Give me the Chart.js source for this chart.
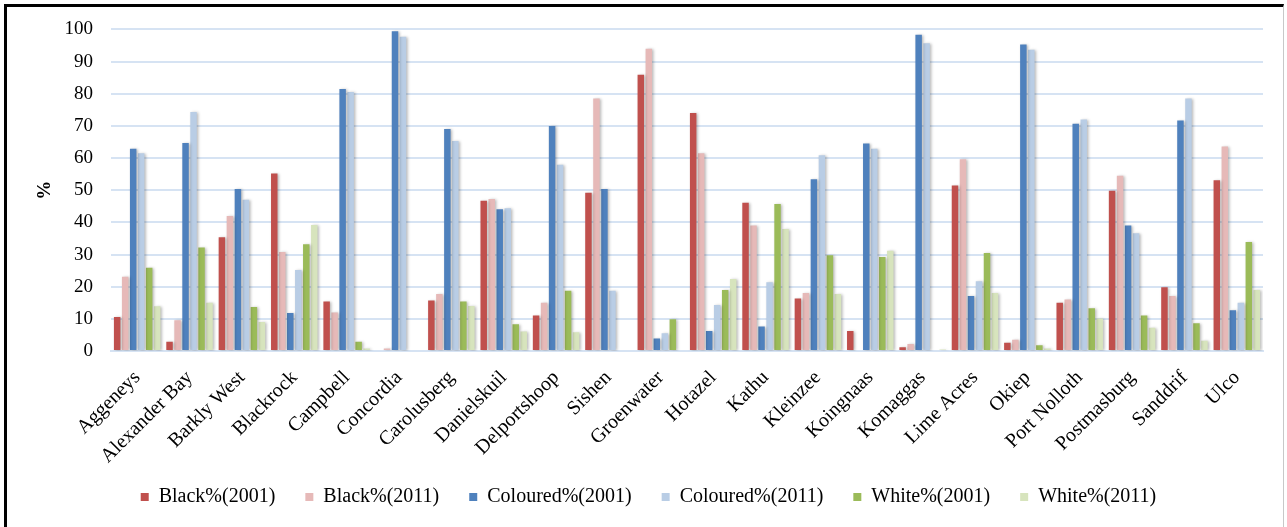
<!DOCTYPE html>
<html>
<head>
<meta charset="utf-8">
<script src="https://cdn.jsdelivr.net/npm/chart.js@4/dist/chart.umd.min.js"></script>
<style>
  html, body { margin: 0; padding: 0; background: #fff; }
  #wrap { position: relative; width: 1287px; height: 527px; overflow: hidden; }
  #c { position: absolute; left: 0; top: 0; }
  #frame {
    position: absolute; left: 4px; top: 4px; width: 1280px; height: 540px;
    border-top: 3px solid #000; border-left: 3px solid #000; border-right: 1px solid #c8c8c8;
    pointer-events: none; box-sizing: border-box;
  }
</style>
</head>
<body>
<div id="wrap">
  <canvas id="c" width="1287" height="527"></canvas>
  <div id="frame"></div>
</div>
<script>
// Population group shares per town, census 2001 vs 2011
const towns = ['Aggeneys', 'Alexander Bay', 'Barkly West', 'Blackrock', 'Campbell', 'Concordia',
  'Carolusberg', 'Danielskuil', 'Delportshoop', 'Sishen', 'Groenwater', 'Hotazel', 'Kathu',
  'Kleinzee', 'Koingnaas', 'Komaggas', 'Lime Acres', 'Okiep', 'Port Nolloth', 'Postmasburg',
  'Sanddrif', 'Ulco'];

const black2001 = [10.6, 2.9, 35.4, 55.2, 15.4, 0, 15.7, 46.7, 11.0, 49.2, 85.9, 74.0, 46.1, 16.3, 6.2, 1.2, 51.5, 2.6, 15.0, 49.8, 19.8, 53.1];
const black2011 = [23.1, 9.6, 42.0, 30.8, 12.0, 0.8, 17.7, 47.3, 15.0, 78.5, 94.0, 61.5, 39.0, 18.0, 0, 2.2, 59.6, 3.5, 16.0, 54.5, 17.1, 63.6];
const coloured2001 = [62.9, 64.7, 50.4, 11.8, 81.5, 99.4, 69.0, 44.1, 70.0, 50.4, 3.9, 6.2, 7.6, 53.4, 64.5, 98.3, 17.1, 95.3, 70.7, 39.0, 71.7, 12.7];
const coloured2011 = [61.5, 74.3, 47.0, 25.2, 80.5, 97.7, 65.3, 44.4, 57.9, 18.7, 5.5, 14.3, 21.4, 60.9, 62.9, 95.7, 21.7, 93.7, 72.0, 36.6, 78.5, 15.0];
const white2001 = [25.9, 32.2, 13.7, 33.2, 2.9, 0, 15.4, 8.3, 18.7, 0, 9.9, 19.0, 45.7, 29.8, 29.2, 0, 30.5, 1.8, 13.3, 11.0, 8.6, 33.9];
const white2011 = [13.9, 15.0, 9.0, 39.2, 0.8, 0, 14.0, 6.1, 5.8, 0, 0, 22.4, 37.9, 17.7, 31.2, 0.5, 18.0, 0.8, 10.1, 7.2, 3.2, 19.0];

const seriesNames = ['Black%(2001)', 'Black%(2011)', 'Coloured%(2001)', 'Coloured%(2011)', 'White%(2001)', 'White%(2011)'];
const seriesColors = ['#c0504d', '#e6b9b8', '#4f81bd', '#b9cde5', '#9bbb59', '#d7e4bd'];
const seriesValues = [black2001, black2011, coloured2001, coloured2011, white2001, white2011];

const yTicks = [0, 10, 20, 30, 40, 50, 60, 70, 80, 90, 100];

const serif = "'Liberation Serif', 'Times New Roman', serif";
const gridBlue = '#d6e3f3';

// soft drop shadow behind the bars
const barShadow = {
  id: 'barShadow',
  beforeDatasetsDraw(chart) {
    const ctx = chart.ctx;
    ctx.save();
    ctx.shadowColor = 'rgba(0,0,0,0.28)';
    ctx.shadowBlur = 3;
    ctx.shadowOffsetX = 1.5;
    ctx.shadowOffsetY = 0.5;
  },
  afterDatasetsDraw(chart) {
    chart.ctx.restore();
  }
};

new Chart(document.getElementById('c'), {
  type: 'bar',
  data: {
    labels: towns,
    datasets: seriesNames.map((name, i) => ({
      label: name,
      data: seriesValues[i],
      backgroundColor: seriesColors[i],
      borderWidth: 0,
      categoryPercentage: 0.917,
      barPercentage: 0.81
    }))
  },
  plugins: [barShadow],
  options: {
    responsive: false,
    animation: false,
    devicePixelRatio: 1,
    layout: { padding: { left: 34, right: 24, top: 23, bottom: 10 } },
    plugins: {
      tooltip: { enabled: false },
      legend: {
        position: 'bottom',
        labels: {
          boxWidth: 8,
          boxHeight: 8,
          padding: 30,
          color: '#000',
          font: { family: serif, size: 20 }
        }
      }
    },
    scales: {
      x: {
        afterFit(scale) {
          scale.height = 106;
          // let the slanted town names run past the axis box instead of being cut off
          scale._computeLabelArea = () => undefined;
        },
        grid: { display: false, drawTicks: false },
        border: { display: true, color: gridBlue, width: 2 },
        ticks: {
          autoSkip: false,
          maxRotation: 45,
          minRotation: 45,
          padding: 15,
          color: '#000',
          font: { family: serif, size: 20 }
        }
      },
      y: {
        min: 0,
        max: 100,
        afterBuildTicks(scale) { scale.ticks = yTicks.map(v => ({ value: v })); },
        afterFit(scale) { scale.width = 77; },
        grid: { color: gridBlue, lineWidth: 2, drawTicks: false },
        border: { display: false },
        ticks: {
          padding: 18,
          color: '#000',
          font: { family: serif, size: 19 }
        },
        title: {
          display: true,
          text: '%',
          color: '#000',
          padding: { top: 0, bottom: 0 },
          font: { family: serif, size: 19, weight: 'bold' }
        }
      }
    }
  }
});
</script>
</body>
</html>
